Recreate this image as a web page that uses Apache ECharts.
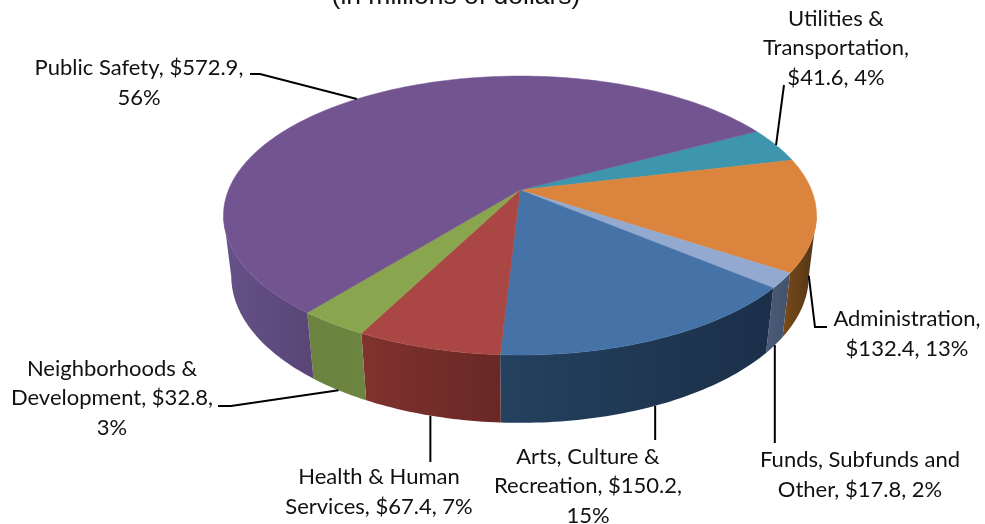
<!DOCTYPE html>
<html>
<head>
<meta charset="utf-8">
<title>Expenditures by program area</title>
<style>html,body{margin:0;padding:0;background:#fff}#chart{width:985px;height:524px}</style>
<script src="https://cdn.jsdelivr.net/npm/echarts@6/dist/echarts.min.js"></script>
</head>
<body>
<div id="chart"></div>
<script>
// Slices in clockwise drawing order, in millions of dollars.
const categories = ['Utilities & Transportation', 'Administration', 'Funds, Subfunds and Other',
  'Arts, Culture & Recreation', 'Health & Human Services', 'Neighborhoods & Development', 'Public Safety'];
const amounts = [41.6, 132.4, 17.8, 150.2, 67.4, 32.8, 572.9];
// {v} and {p} are replaced by the formatted amount and share.
const labelTemplates = ['Utilities &\nTransportation,\n{v}, {p}', 'Administration,\n{v}, {p}',
  'Funds, Subfunds and\nOther, {v}, {p}', 'Arts, Culture &\nRecreation, {v},\n{p}',
  'Health & Human\nServices, {v}, {p}', 'Neighborhoods &\nDevelopment, {v},\n{p}',
  'Public Safety, {v},\n{p}'];
const topColors = ['#3d96ae', '#db843d', '#93a9cf', '#4572a7', '#aa4643', '#89a54e', '#725590'];
const wallColors = [['#2a6a7c', '#2a6a7c'], ['#7a4b18', '#503418'], ['#4a5a78', '#44526c'],
  ['#24415f', '#1b2f49'], ['#80322e', '#682825'], ['#6b833f', '#6c853f'], ['#665189', '#5a4576']];
const labelCenters = [[836, 48], [907, 334], [860, 475], [588, 486], [379, 492], [112, 398], [139, 83]];
// Leader line waypoints from the label side towards the slice.
const leaderStarts = [[[784, 85]], [[827, 327], [815, 327]], [[774, 443]], [[655, 440]], [[430, 462]],
  [[218, 406], [231, 406]], [[250, 74], [260, 74]]];
const title = '(in millions of dollars)';

// Perspective disc: apex position, axis scales, foreshortening and wall depth.
const apexX = 520, apexY = 190, scaleX = 291.5, scaleY = 134.8, tilt = 0.183, depthScale = 0.026, depth = 61.5;
const startAngle = 61.9;
const total = amounts.reduce((a, b) => a + b, 0);

// Cumulative clockwise angles measured from twelve o'clock.
const edges = [startAngle];
amounts.forEach(v => edges.push(edges[edges.length - 1] + v / total * 360));

// The wall is only visible between the two tangent points of the rim.
const wallInset = Math.asin(tilt) * 180 / Math.PI;
const wallFrom = 90 + wallInset, wallTo = 270 - wallInset;

function project(deg, h) {
  const r = deg * Math.PI / 180, u = Math.sin(r), v = -Math.cos(r);
  const w = 1 - tilt * v + depthScale * h;
  return [apexX + scaleX * u / w, apexY + (scaleY * v + depth * h) / w];
}
function arc(a, b, h) {
  const n = Math.max(2, Math.ceil(Math.abs(b - a)));
  const pts = [];
  for (let i = 0; i <= n; i++) pts.push(project(a + (b - a) * i / n, h));
  return pts;
}
function isFront(mid) {
  const m = ((mid % 360) + 360) % 360;
  return m > 90 && m < 270;
}

function renderWall(params) {
  const i = params.dataIndex;
  const a = Math.max(edges[i], wallFrom), b = Math.min(edges[i + 1], wallTo);
  if (b <= a) return { type: 'group', children: [] };
  const points = arc(a, b, 0).concat(arc(a, b, 1).reverse());
  return {
    type: 'polygon', shape: { points },
    style: { fill: { type: 'linear', x: 0, y: 0, x2: 1, y2: 0, colorStops: [
      { offset: 0, color: wallColors[i][0] }, { offset: 1, color: wallColors[i][1] }] } }
  };
}
function renderTop(params) {
  const i = params.dataIndex;
  const points = [[apexX, apexY]].concat(arc(edges[i], edges[i + 1], 0));
  return { type: 'polygon', shape: { points }, style: { fill: topColors[i], stroke: topColors[i], lineWidth: 0.5 } };
}
function renderLabel(params, api) {
  const i = params.dataIndex;
  const value = api.value(0);
  const mid = (edges[i] + edges[i + 1]) / 2;
  const anchor = project(mid, isFront(mid) ? 1 : 0);
  const text = labelTemplates[i]
    .replace('{v}', '$' + value.toFixed(1))
    .replace('{p}', Math.round(value / total * 100) + '%');
  // Vertical leaders keep the slice's anchor column.
  const starts = leaderStarts[i].length === 1 && isFront(mid)
    ? [[anchor[0], leaderStarts[i][0][1]]] : leaderStarts[i];
  return {
    type: 'group',
    children: [
      { type: 'polyline', shape: { points: starts.concat([anchor]) },
        style: { stroke: '#000', lineWidth: 2, fill: null } },
      { type: 'text', style: { text, x: labelCenters[i][0], y: labelCenters[i][1],
        align: 'center', verticalAlign: 'middle', lineHeight: 29.5,
        font: '22px Lato', fill: '#111' } }
    ]
  };
}

const seriesData = amounts.map((v, i) => ({ name: categories[i], value: [v] }));
const chart = echarts.init(document.getElementById('chart'), null, { renderer: 'canvas' });
chart.setOption({
  animation: false,
  backgroundColor: '#fff',
  title: { text: title, left: 451, top: -22, textAlign: 'center',
    textStyle: { fontFamily: 'Liberation Sans', fontSize: 26.5, fontWeight: 'normal', color: '#111' } },
  series: [
    { type: 'custom', coordinateSystem: 'none', data: seriesData, renderItem: renderWall, z: 1, silent: true },
    { type: 'custom', coordinateSystem: 'none', data: seriesData, renderItem: renderTop, z: 2, silent: true },
    { type: 'custom', coordinateSystem: 'none', data: seriesData, renderItem: renderLabel, z: 3, silent: true }
  ]
});
</script>
</body>
</html>
